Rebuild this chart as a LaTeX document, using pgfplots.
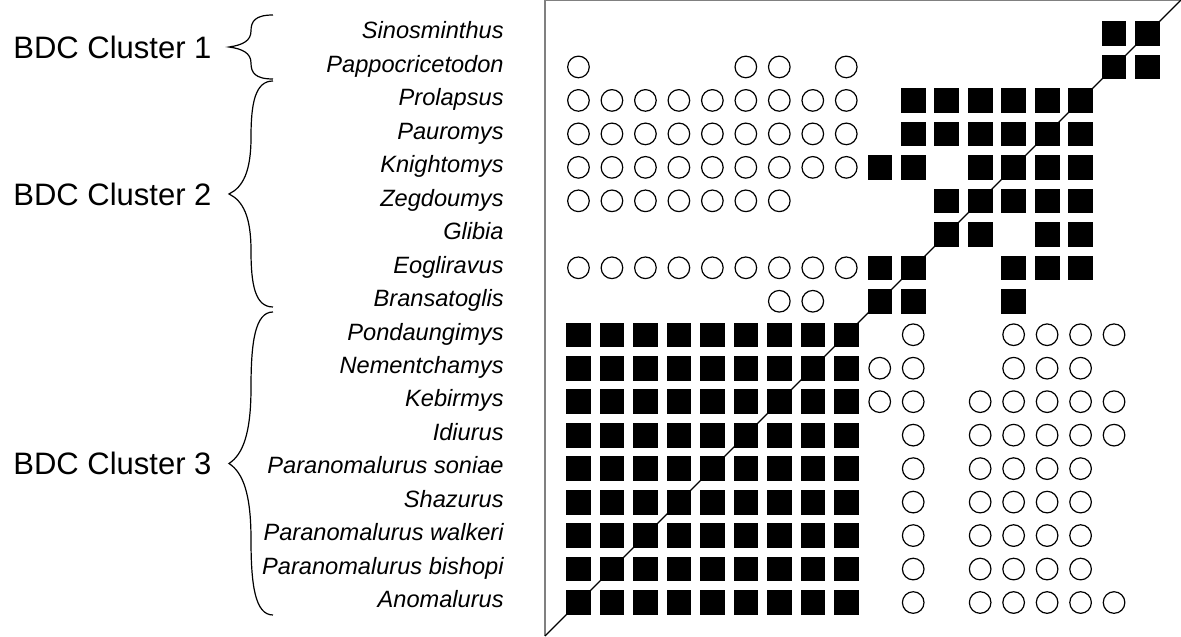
\documentclass[border=0pt]{standalone}
\usepackage{fontspec}
\setmainfont{Liberation Sans}
\usepackage{pgfplots}
\pgfplotsset{compat=1.18}

% brace in pixel units: #1 top y, #2 bottom y
\newcommand\bdcbrace[2]{%
  \pgfmathsetmacro\hh{(#2-#1)/2}%
  \pgfmathsetmacro\ym{(#2+#1)/2}%
  \draw[line width=0.6pt] (273,#1) .. controls (255,#1) and (251,{#1+0.2*\hh}) .. (251,{#1+0.5*\hh})
    .. controls (251,{#1+0.8*\hh}) and (243,{\ym-0.06*\hh}) .. (229,\ym)
    .. controls (243,{\ym+0.06*\hh}) and (251,{#2-0.8*\hh}) .. (251,{#2-0.5*\hh})
    .. controls (251,{#2-0.2*\hh}) and (255,#2) .. (273,#2);
}

\begin{document}
\begin{tikzpicture}
\begin{axis}[
  scale only axis,
  width=318pt, height=318pt,
  xmin=0, xmax=19, ymin=0, ymax=19,
  axis x line*=top, axis y line*=left,
  axis line style={gray, line width=0.9pt},
  xtick=\empty,
  ytick={1,...,18},
  yticklabels={Anomalurus, Paranomalurus bishopi, Paranomalurus walkeri, Shazurus,
    Paranomalurus soniae, Idiurus, Kebirmys, Nementchamys, Pondaungimys,
    Bransatoglis, Eogliravus, Glibia, Zegdoumys, Knightomys, Pauromys,
    Prolapsus, Pappocricetodon, Sinosminthus},
  yticklabel style={font=\fontsize{11.8}{14}\selectfont\itshape,
    anchor=mid east, inner sep=0pt, xshift=-20.5pt},
  major tick length=0pt,
  clip=false,
]
% diagonal
\addplot[black, line width=0.6pt] coordinates {(0,0)(19,19)};

% filled squares
\addplot[only marks, mark=square*, mark size=5.9pt, black] coordinates {
  (17,18)(18,18)
  (17,17)(18,17)
  (11,16)(12,16)(13,16)(14,16)(15,16)(16,16)
  (11,15)(12,15)(13,15)(14,15)(15,15)(16,15)
  (10,14)(11,14)(13,14)(14,14)(15,14)(16,14)
  (12,13)(13,13)(14,13)(15,13)(16,13)
  (12,12)(13,12)(15,12)(16,12)
  (10,11)(11,11)(14,11)(15,11)(16,11)
  (10,10)(11,10)(14,10)
  (1,9)(2,9)(3,9)(4,9)(5,9)(6,9)(7,9)(8,9)(9,9)
  (1,8)(2,8)(3,8)(4,8)(5,8)(6,8)(7,8)(8,8)(9,8)
  (1,7)(2,7)(3,7)(4,7)(5,7)(6,7)(7,7)(8,7)(9,7)
  (1,6)(2,6)(3,6)(4,6)(5,6)(6,6)(7,6)(8,6)(9,6)
  (1,5)(2,5)(3,5)(4,5)(5,5)(6,5)(7,5)(8,5)(9,5)
  (1,4)(2,4)(3,4)(4,4)(5,4)(6,4)(7,4)(8,4)(9,4)
  (1,3)(2,3)(3,3)(4,3)(5,3)(6,3)(7,3)(8,3)(9,3)
  (1,2)(2,2)(3,2)(4,2)(5,2)(6,2)(7,2)(8,2)(9,2)
  (1,1)(2,1)(3,1)(4,1)(5,1)(6,1)(7,1)(8,1)(9,1)
};

% open circles
\addplot[only marks, mark=o, mark size=5.4pt, black, mark options={line width=0.6pt}] coordinates {
  (1,17)(6,17)(7,17)(9,17)
  (1,16)(2,16)(3,16)(4,16)(5,16)(6,16)(7,16)(8,16)(9,16)
  (1,15)(2,15)(3,15)(4,15)(5,15)(6,15)(7,15)(8,15)(9,15)
  (1,14)(2,14)(3,14)(4,14)(5,14)(6,14)(7,14)(8,14)(9,14)
  (1,13)(2,13)(3,13)(4,13)(5,13)(6,13)(7,13)
  (1,11)(2,11)(3,11)(4,11)(5,11)(6,11)(7,11)(8,11)(9,11)
  (7,10)(8,10)
  (11,9)(14,9)(15,9)(16,9)(17,9)
  (10,8)(11,8)(14,8)(15,8)(16,8)
  (10,7)(11,7)(13,7)(14,7)(15,7)(16,7)(17,7)
  (11,6)(13,6)(14,6)(15,6)(16,6)(17,6)
  (11,5)(13,5)(14,5)(15,5)(16,5)
  (11,4)(13,4)(14,4)(15,4)(16,4)
  (11,3)(13,3)(14,3)(15,3)(16,3)
  (11,2)(13,2)(14,2)(15,2)(16,2)
  (11,1)(13,1)(14,1)(15,1)(16,1)(17,1)
};
\end{axis}

% cluster braces and names, in reference pixel units
\begin{scope}[shift={(-272.5pt,318pt)}, x=0.5pt, y=-0.5pt]
  \bdcbrace{15}{79}
  \bdcbrace{81}{307}
  \bdcbrace{312}{615}
  \begin{scope}[every node/.style={anchor=west, inner sep=0pt,
      font=\fontsize{15.5}{18}\selectfont}]
    \node at (13,47) {BDC Cluster 1};
    \node at (13,194) {BDC Cluster 2};
    \node at (13,463.5) {BDC Cluster 3};
  \end{scope}
\end{scope}

\pgfresetboundingbox
\path[use as bounding box] (-272.5pt,0pt) rectangle (318pt,318pt);
\end{tikzpicture}
\end{document}
